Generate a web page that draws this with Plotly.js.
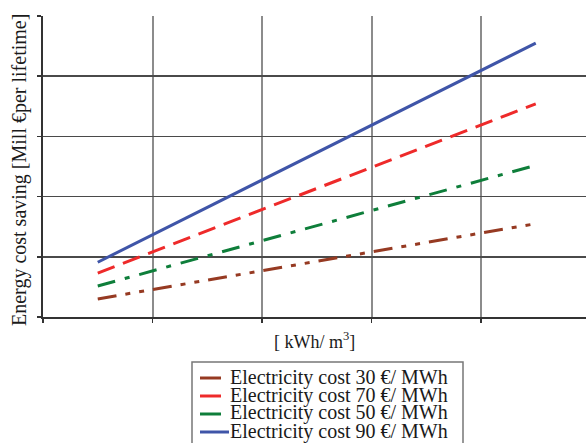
<!DOCTYPE html>
<html>
<head>
<meta charset="utf-8">
<script src="https://cdn.plot.ly/plotly-3.0.1.min.js"></script>
<style>html,body{margin:0;padding:0;background:#fff;}#chart{width:586px;height:443px;}</style>
</head>
<body>
<div id="chart"></div>
<script>
// Data
const xVals = [0.5, 4.5];
const cost30 = [0.30, 1.55];
const cost70 = [0.73, 3.54];
const cost50 = [0.515, 2.52];
const cost90 = [0.91, 4.55];
const seriesNames = [
  'Electricity cost 30 €/ MWh',
  'Electricity cost 70 €/ MWh',
  'Electricity cost 50 €/ MWh',
  'Electricity cost 90 €/ MWh'
];
const seriesValues = [cost30, cost70, cost50, cost90];
const seriesColors = ['#963a22', '#ee2a2a', '#0e7e3a', '#3f55a8'];
const seriesDash = ['19px,9px,5px,9px,5px,9px', '18px,9px', '18px,10px,5px,10px', 'solid'];
const xTicks = [0, 1, 2, 3, 4];
const yTicks = [0, 1, 2, 3, 4, 5];

const W = 586, H = 443;
const L = 43, R = 0, T = 16, B = 126;
const pw = W - L - R, ph = H - T - B;
const px = X => (X - L) / pw;
const py = Y => (H - B - Y) / ph;

const traces = seriesNames.map((n, i) => ({
  x: xVals, y: seriesValues[i], name: n, type: 'scatter', mode: 'lines',
  line: {color: seriesColors[i], width: 3, dash: seriesDash[i]},
  showlegend: false, hoverinfo: 'skip'
}));

const font = 'Liberation Serif, Times New Roman, serif';
const shapes = [];
const annotations = [];
// legend box
shapes.push({type: 'rect', xref: 'paper', yref: 'paper', x0: px(192), x1: px(463), y0: py(362), y1: py(470),
  line: {color: '#777', width: 1.5}, fillcolor: 'rgba(0,0,0,0)'});
const itemY = [378, 396, 414, 432];
seriesNames.forEach((n, i) => {
  shapes.push({type: 'line', xref: 'paper', yref: 'paper', x0: px(200), x1: px(i === 3 ? 229 : 221),
    y0: py(itemY[i]), y1: py(itemY[i]), line: {color: seriesColors[i], width: 3}});
  annotations.push({xref: 'paper', yref: 'paper', x: px(229), y: py(itemY[i] - 1), xanchor: 'left', yanchor: 'middle',
    text: n, showarrow: false, font: {family: font, size: 20, color: '#1a1a1a'}, borderpad: 0});
});
annotations.push({xref: 'paper', yref: 'paper', x: px(19), y: py(170), textangle: -90, xanchor: 'center', yanchor: 'middle',
  text: 'Energy cost saving [Mill €per lifetime]', showarrow: false, font: {family: font, size: 20, color: '#1a1a1a'}});
annotations.push({xref: 'paper', yref: 'paper', x: 0.5, y: py(340), xanchor: 'center', yanchor: 'middle',
  text: '[ kWh/ m<sup>3</sup>]', showarrow: false, font: {family: font, size: 18, color: '#1a1a1a'}});

const layout = {
  width: W, height: H,
  margin: {l: L, r: R, t: T, b: B, pad: 0},
  paper_bgcolor: '#fff', plot_bgcolor: '#fff',
  showlegend: false,
  xaxis: {range: [0, pw / 109.5], tickvals: xTicks, showticklabels: false, ticks: 'outside', ticklen: 4,
    tickcolor: '#333', tickwidth: 1.5, showgrid: true, gridcolor: '#8c8c8c', gridwidth: 2,
    showline: true, linecolor: '#333', linewidth: 2, zeroline: false, fixedrange: true},
  yaxis: {range: [0, 5], tickvals: yTicks, showticklabels: false, ticks: 'outside', ticklen: 4,
    tickcolor: '#333', tickwidth: 1.5, showgrid: true, gridcolor: '#4a4a4a', gridwidth: 1.5,
    showline: true, linecolor: '#333', linewidth: 2, zeroline: false, fixedrange: true},
  shapes: shapes,
  annotations: annotations
};

Plotly.newPlot('chart', traces, layout, {displayModeBar: false, staticPlot: true});
</script>
</body>
</html>
